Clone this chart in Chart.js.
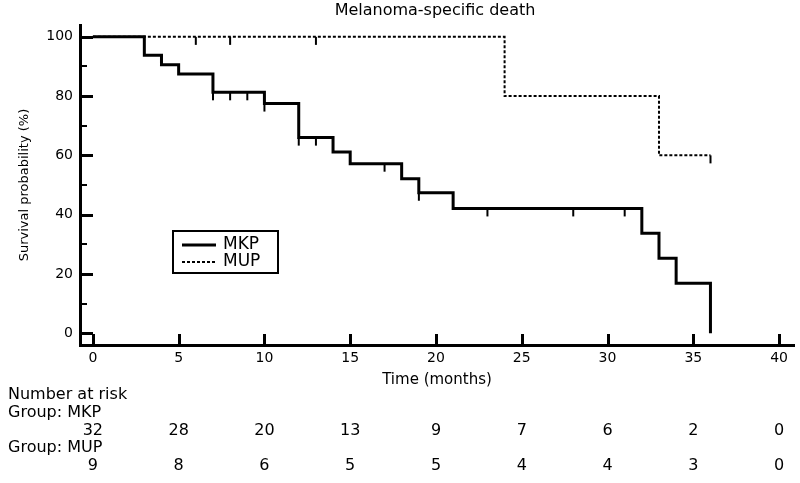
<!DOCTYPE html>
<html>
<head>
<meta charset="utf-8">
<script src="https://cdn.jsdelivr.net/npm/chart.js@4/dist/chart.umd.min.js"></script>
<style>
  html, body { margin: 0; padding: 0; background: #ffffff; }
  #wrap { width: 800px; height: 483px; }
</style>
</head>
<body>
<div id="wrap"><canvas id="c" width="800" height="483"></canvas></div>
<script>
// ---------- data ----------
const chartTitle = 'Melanoma-specific death';
const xTitle = 'Time (months)';
const yTitle = 'Survival probability (%)';
const seriesNames = ['MKP', 'MUP'];

const mkpMonths   = [0, 3, 4, 5, 7, 10, 12, 14, 15, 18, 19, 21, 32, 33, 34, 36];
const mkpSurvival = [100, 93.8, 90.6, 87.5, 81.3, 77.5, 66.0, 61.1, 57.2, 52.1, 47.4, 42.1, 33.7, 25.3, 16.8, 0];
const mkpCensored = [7, 8, 9, 10, 12, 13, 17, 19, 23, 28, 31];

const mupMonths   = [0, 24, 33, 36];
const mupSurvival = [100, 80, 60, 60];
const mupCensored = [6, 8, 13, 36];

const xTickValues   = [0, 5, 10, 15, 20, 25, 30, 35, 40];
const yTickValues   = [0, 20, 40, 60, 80, 100];
const yMinorValues  = [10, 30, 50, 70, 90];

const riskTitle  = 'Number at risk';
const riskGroups = ['Group: MKP', 'Group: MUP'];
const riskTimes  = [0, 5, 10, 15, 20, 25, 30, 35, 40];
const mkpAtRisk  = [32, 28, 20, 13, 9, 7, 6, 2, 0];
const mupAtRisk  = [9, 8, 6, 5, 5, 4, 4, 3, 0];

// ---------- helpers ----------
function toPoints(xs, ys) { return xs.map((x, i) => ({ x: x, y: ys[i] })); }
function stepValueAt(xs, ys, t) {
  let v = ys[0];
  for (let i = 0; i < xs.length; i++) { if (xs[i] <= t) v = ys[i]; }
  return v;
}
function censorMark(len, w) {
  const c = document.createElement('canvas');
  c.width = w + 2; c.height = len * 2 + 2;
  const g = c.getContext('2d');
  g.fillStyle = '#000';
  g.fillRect(1, len + 1, w, len);
  return c;
}
const tickMark = censorMark(8, 2);

const FONT = "'DejaVu Sans', sans-serif";

// ---------- plugin: inward ticks, titles, legend, risk table ----------
const decor = {
  id: 'decor',
  afterDraw(chart) {
    const ctx = chart.ctx;
    const xs = chart.scales.x, ys = chart.scales.y;
    const ca = chart.chartArea;
    ctx.save();
    ctx.strokeStyle = '#000';
    ctx.lineCap = 'butt';
    // y major ticks
    ctx.lineWidth = 3;
    yTickValues.forEach(v => {
      const y = Math.round(ys.getPixelForValue(v)) + 0.5;
      ctx.beginPath(); ctx.moveTo(ca.left, y); ctx.lineTo(ca.left + 13, y); ctx.stroke();
    });
    ctx.lineWidth = 2;
    yMinorValues.forEach(v => {
      const y = Math.round(ys.getPixelForValue(v));
      ctx.beginPath(); ctx.moveTo(ca.left, y); ctx.lineTo(ca.left + 7, y); ctx.stroke();
    });
    // x ticks (upward)
    ctx.lineWidth = 3;
    xTickValues.forEach(v => {
      const x = Math.round(xs.getPixelForValue(v)) + 0.5;
      ctx.beginPath(); ctx.moveTo(x, ca.bottom); ctx.lineTo(x, ca.bottom - 11); ctx.stroke();
    });

    // titles
    ctx.fillStyle = '#000';
    ctx.textBaseline = 'middle';
    ctx.textAlign = 'center';
    ctx.font = '16px ' + FONT;
    ctx.fillText(chartTitle, (ca.left + ca.right) / 2 - 2, 11);
    ctx.font = '15px ' + FONT;
    ctx.fillText(xTitle, (ca.left + ca.right) / 2, 380);
    ctx.save();
    ctx.translate(25, (ca.top + ca.bottom) / 2);
    ctx.rotate(-Math.PI / 2);
    ctx.font = '13px ' + FONT;
    ctx.fillText(yTitle, 0, 0);
    ctx.restore();

    // legend
    ctx.lineWidth = 2;
    ctx.strokeRect(173, 231, 105, 42);
    const ds = chart.data.datasets;
    [0, 1].forEach(i => {
      const y = i === 0 ? 245 : 262;
      ctx.save();
      ctx.lineWidth = ds[i].borderWidth;
      ctx.setLineDash(ds[i].borderDash || []);
      ctx.beginPath(); ctx.moveTo(182, y); ctx.lineTo(216, y); ctx.stroke();
      ctx.restore();
      ctx.textAlign = 'left';
      ctx.font = '17px ' + FONT;
      ctx.fillText(seriesNames[i], 223, y);
    });

    // risk table
    ctx.font = '16px ' + FONT;
    ctx.textAlign = 'left';
    ctx.fillText(riskTitle, 8, 395);
    ctx.fillText(riskGroups[0], 8, 413);
    ctx.fillText(riskGroups[1], 8, 448);
    ctx.textAlign = 'center';
    riskTimes.forEach((t, i) => {
      const x = xs.getPixelForValue(t);
      ctx.fillText(String(mkpAtRisk[i]), x, 431);
      ctx.fillText(String(mupAtRisk[i]), x, 466);
    });
    ctx.restore();
  }
};

// ---------- chart ----------
new Chart(document.getElementById('c'), {
  type: 'scatter',
  data: {
    datasets: [
      {
        label: seriesNames[0],
        data: toPoints(mkpMonths, mkpSurvival),
        showLine: true, stepped: true,
        borderColor: '#000', borderWidth: 3,
        borderJoinStyle: 'miter', borderCapStyle: 'butt',
        pointRadius: 0, fill: false
      },
      {
        label: seriesNames[1],
        data: toPoints(mupMonths, mupSurvival),
        showLine: true, stepped: true,
        borderColor: '#000', borderWidth: 2, borderDash: [3, 2],
        borderJoinStyle: 'miter', borderCapStyle: 'butt',
        pointRadius: 0, fill: false
      },
      {
        label: 'MKP censored',
        data: mkpCensored.map(t => ({ x: t, y: stepValueAt(mkpMonths, mkpSurvival, t) })),
        showLine: false, pointStyle: tickMark, pointRadius: 5
      },
      {
        label: 'MUP censored',
        data: mupCensored.map(t => ({ x: t, y: stepValueAt(mupMonths, mupSurvival, t) })),
        showLine: false, pointStyle: tickMark, pointRadius: 5
      }
    ]
  },
  options: {
    responsive: false,
    animation: false,
    events: [],
    devicePixelRatio: 1,
    layout: { padding: { left: 0, right: 2, top: 25, bottom: 108 } },
    plugins: { legend: { display: false }, tooltip: { enabled: false }, title: { display: false } },
    scales: {
      x: {
        type: 'linear', min: -0.75, max: 40.87,
        afterBuildTicks: s => { s.ticks = xTickValues.map(v => ({ value: v })); },
        afterFit: s => { s.height = 30; },
        grid: { display: false, drawTicks: false },
        border: { display: true, color: '#000', width: 3 },
        ticks: { color: '#000', font: { family: FONT, size: 14 }, padding: 5, maxRotation: 0, autoSkip: false }
      },
      y: {
        type: 'linear', min: -4, max: 104,
        afterBuildTicks: s => { s.ticks = yTickValues.map(v => ({ value: v })); },
        afterFit: s => { s.width = 80; },
        grid: { display: false, drawTicks: false },
        border: { display: true, color: '#000', width: 3 },
        ticks: { color: '#000', font: { family: FONT, size: 14 }, padding: 7 }
      }
    }
  },
  plugins: [decor]
});
</script>
</body>
</html>
